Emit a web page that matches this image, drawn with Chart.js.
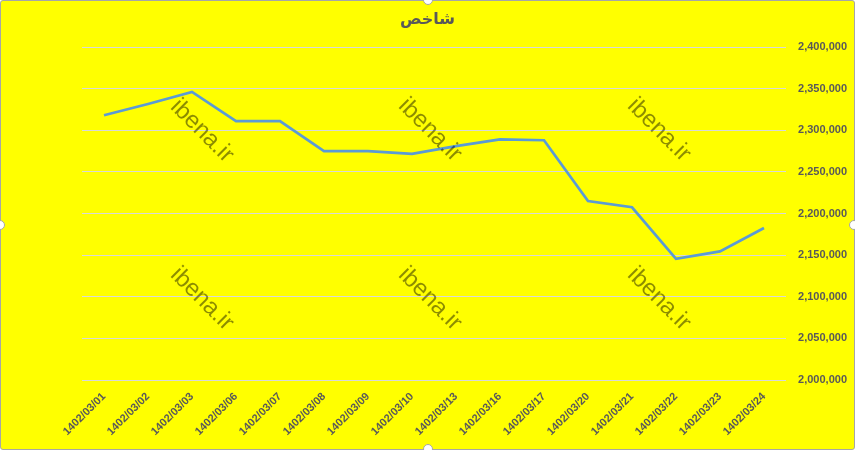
<!DOCTYPE html>
<html>
<head>
<meta charset="utf-8">
<script src="https://cdn.jsdelivr.net/npm/chart.js@4.4.1/dist/chart.umd.min.js"></script>
<style>
  html, body { margin: 0; padding: 0; background: #fff; }
  #wrap {
    position: relative; width: 853px; height: 448px;
    background: #ffff00; border: 1px solid #a6a6a6; border-radius: 3px;
  }
  canvas { position: absolute; left: -1px; top: -1px; }
  .handle {
    position: absolute; width: 8px; height: 8px; border-radius: 50%;
    background: #fff; border: 1px solid #a6a6a6;
  }
</style>
</head>
<body>
<div id="wrap">
  <canvas id="chart" width="855" height="450"></canvas>
  <div class="handle" style="left:422px;top:-6px"></div>
  <div class="handle" style="left:422px;top:443px"></div>
  <div class="handle" style="left:-6px;top:219px"></div>
  <div class="handle" style="left:848px;top:219px"></div>
</div>
<script>
'use strict';

// ── Data ─────────────────────────────────────────────────────────────────────
const dates = [
  '1402/03/01', '1402/03/02', '1402/03/03', '1402/03/06', '1402/03/07',
  '1402/03/08', '1402/03/09', '1402/03/10', '1402/03/13', '1402/03/16',
  '1402/03/17', '1402/03/20', '1402/03/21', '1402/03/22', '1402/03/23',
  '1402/03/24'
];
const indexValues = [
  2318000, 2331500, 2346000, 2311000, 2311000,
  2275000, 2275000, 2271500, 2281000, 2289000,
  2288000, 2215000, 2207500, 2145500, 2154500,
  2182500
];
const titleText = 'شاخص';
const yMin = 2000000;
const yMax = 2400000;
const yStep = 50000;

// ── Title + watermark plugin ─────────────────────────────────────────────────
const marks = [[202, 131], [430, 130], [659, 130], [202, 299], [430, 299], [659, 299]];
const overlay = {
  id: 'overlay',
  afterDatasetsDraw(chart) {
    const ctx = chart.ctx;
    ctx.save();
    ctx.font = '24px "Liberation Sans", Arial, sans-serif';
    ctx.fillStyle = 'rgba(0,0,0,0.45)';
    ctx.textAlign = 'center';
    ctx.textBaseline = 'middle';
    marks.forEach(([x, y]) => {
      ctx.save();
      ctx.translate(x, y);
      ctx.rotate(Math.PI / 4);
      ctx.fillText('ibena.ir', 0, 0);
      ctx.restore();
    });
    // title centred on the whole canvas
    ctx.font = 'bold 16px "DejaVu Sans", sans-serif';
    ctx.fillStyle = '#595959';
    ctx.fillText(titleText, chart.width / 2, 20);
    ctx.restore();
  }
};

const fmt = n => n.toLocaleString('en-US');

new Chart(document.getElementById('chart'), {
  type: 'line',
  data: {
    labels: dates,
    datasets: [{
      data: indexValues,
      borderColor: '#5b9bd5',
      borderWidth: 2.75,
      pointRadius: 0,
      tension: 0,
      fill: false,
    }],
  },
  options: {
    responsive: false,
    animation: false,
    devicePixelRatio: 1,
    layout: { padding: { left: 82, right: 8, top: 47, bottom: 0 } },
    plugins: {
      legend: { display: false },
      tooltip: { enabled: false },
      title: { display: false },
    },
    scales: {
      x: {
        offset: true,
        grid: { display: false, drawTicks: false },
        border: { display: false },
        ticks: {
          color: '#595959',
          font: { family: '"Liberation Sans", Arial, sans-serif', size: 11, weight: 'bold' },
          maxRotation: 45,
          minRotation: 45,
          autoSkip: false,
          padding: 10,
        },
        afterFit(scale) { scale.height = 70; },
      },
      y: {
        position: 'right',
        min: yMin,
        max: yMax,
        grid: { color: '#d9d9d9', lineWidth: 1, drawTicks: false },
        border: { display: false },
        ticks: {
          stepSize: yStep,
          color: '#595959',
          crossAlign: 'far',
          padding: 10,
          font: { family: '"Liberation Sans", Arial, sans-serif', size: 11, weight: 'bold' },
          callback: v => fmt(v),
        },
        afterFit(scale) { scale.width = 61; },
      },
    },
  },
  plugins: [overlay],
});
</script>
</body>
</html>
